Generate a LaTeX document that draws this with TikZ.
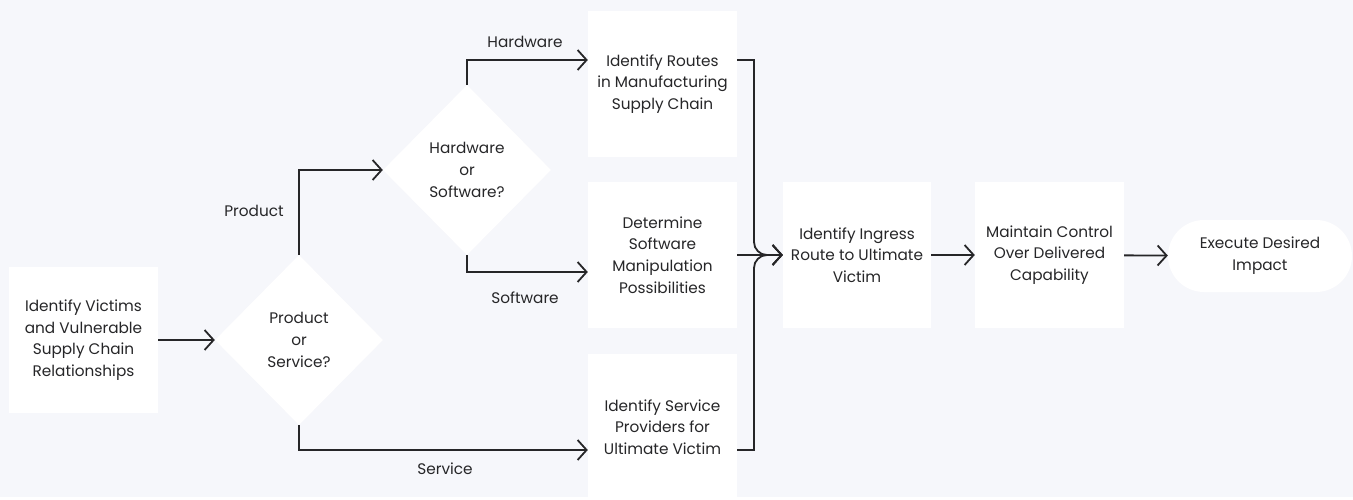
\documentclass[tikz,border=0pt]{standalone}
\usepackage{fontspec}
\setmainfont{Poppins}
\usepackage{tikz}
\usetikzlibrary{shapes.geometric}
\usetikzlibrary{arrows.meta}
\definecolor{paper}{RGB}{246,247,251}
\definecolor{ink}{RGB}{38,38,40}

\begin{document}
\begin{tikzpicture}[x=1pt, y=-1pt,
		box/.style={fill=white, align=center, minimum width=149pt, minimum height=146pt, inner sep=0pt, text=ink, font=\fontsize{15.3}{21.7}\selectfont},
		decision/.style={fill=white, diamond, aspect=1, align=center, minimum width=168pt, minimum height=170pt, inner sep=0pt, text=ink, font=\fontsize{15.3}{21.7}\selectfont},
		flow/.style={draw=ink, line width=1.8pt, -{Straight Barb[length=9pt, width=20pt, line width=1.8pt]}},
		lbl/.style={text=ink, font=\fontsize{15.3}{18}\selectfont}]

		% background
		\fill[paper] (0,0) rectangle (1353,497);

		\node[box] (victims) at (83.5,340) {Identify Victims\\and Vulnerable\\Supply Chain\\Relationships};

		\node[decision] (ps) at (299,340) {Product\\or\\Service?};

		\node[decision] (hs) at (467,170) {Hardware\\or\\Software?};

		\node[box] (routes) at (662.5,84) {Identify Routes\\in Manufacturing\\Supply Chain};

		\node[box] (manip) at (662.5,255) {Determine\\Software\\Manipulation\\Possibilities};

		\node[box] (providers) at (662.5,427) {Identify Service\\Providers for\\Ultimate Victim};

		\node[box, minimum width=148pt] (ingress) at (857,255) {Identify Ingress\\Route to Ultimate\\Victim};

		\node[box] (control) at (1049.5,255) {Maintain Control\\Over Delivered\\Capability};

		\node[box, minimum width=184pt, minimum height=72pt, rounded corners=36pt] (impact) at (1260,256) {Execute Desired\\Impact};

		% turning points
		\coordinate (hwturn) at (467,60);
		\coordinate (swturn) at (467,272);
		\coordinate (servturn) at (299,450);
		\coordinate (merge) at (754,255);

		\draw[flow] (victims) -- (ps);
		\draw[flow] (ps.north) |- (hs.west);
		\draw[flow] (ps.south) |- (providers.west |- servturn);
		\draw[flow] (hs.north) |- (routes.west |- hwturn);
		\draw[flow] (hs.south) |- (manip.west |- swturn);

		\draw[flow] (routes.east |- hwturn) -- (merge |- hwturn) [rounded corners=13pt] |- (ingress.west);
		\draw[flow] (providers.east |- servturn) -- (merge |- servturn) [rounded corners=13pt] |- (ingress.west);
		\draw[flow] (manip.east) -- (ingress.west);

		\draw[flow] (ingress) -- (control);
		\draw[flow] (control) -- (impact);

		\node[lbl] (lprod) at (254,211) {Product};
		\node[lbl] (lhw) at (525,42) {Hardware};
		\node[lbl] (lsw) at (525,298) {Software};
		\node[lbl] (lserv) at (445,469) {Service};

	\end{tikzpicture}
\end{document}
